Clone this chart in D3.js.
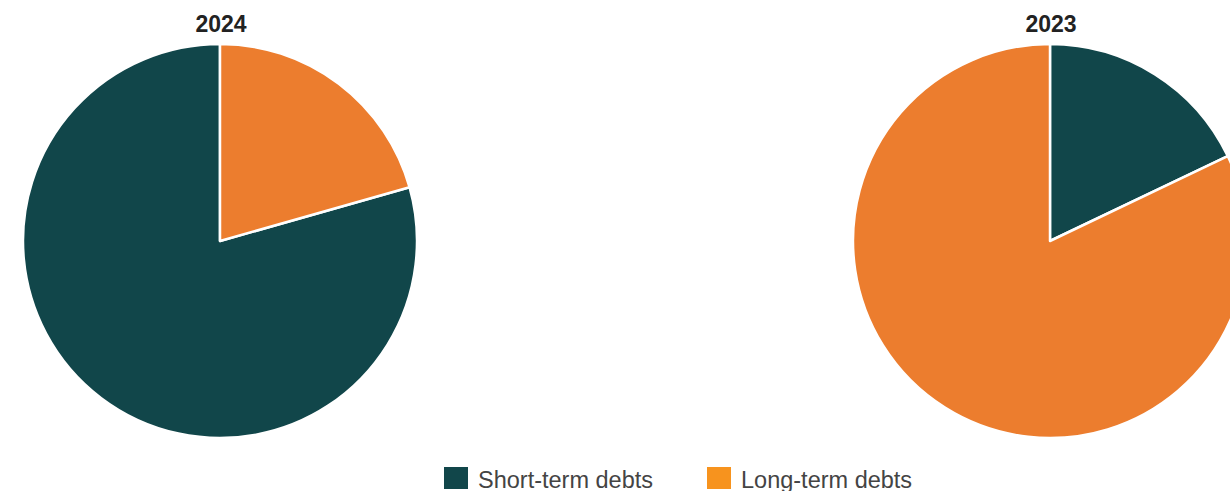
<!DOCTYPE html>
<html>
<head>
<meta charset="utf-8">
<script src="https://cdn.jsdelivr.net/npm/d3@7"></script>
<style>
  html, body { margin: 0; padding: 0; background: #fff; }
  svg { display: block; font-family: "Liberation Sans", Arial, Helvetica, sans-serif; }
</style>
</head>
<body>
<svg id="chart" width="1230" height="491"></svg>
<script>
// Debt structure by year (% of total debts)
const years = ["2024", "2023"];
const categories = ["Short-term debts", "Long-term debts"];
const shortTerm = [79.4, 17.9];
const longTerm = [20.6, 82.1];

const sliceColors = ["#11464a", "#ec7d2e"];
const legendColors = ["#11464a", "#f7931e"];

const svg = d3.select("#chart");

const radius = 197;
const centerX = d3.scalePoint().domain(years).range([220, 1050]);
const centerY = 241;

const color = d3.scaleOrdinal().domain(categories).range(sliceColors);
const legendColor = d3.scaleOrdinal().domain(categories).range(legendColors);

// smaller share starts at twelve o'clock, running clockwise
const pie = d3.pie().value(d => d.value).sort((a, b) => a.value - b.value);
const arc = d3.arc().innerRadius(0).outerRadius(radius);

years.forEach((year, i) => {
  const rows = [
    { key: categories[0], value: shortTerm[i] },
    { key: categories[1], value: longTerm[i] }
  ];
  const g = svg.append("g")
    .attr("transform", `translate(${centerX(year)},${centerY})`);

  g.selectAll("path")
    .data(pie(rows))
    .join("path")
    .attr("d", arc)
    .attr("fill", d => color(d.data.key))
    .attr("stroke", "#fff")
    .attr("stroke-width", 2.5)
    .attr("stroke-linejoin", "round");

  svg.append("text")
    .attr("x", centerX(year) + 1)
    .attr("y", 32)
    .attr("text-anchor", "middle")
    .attr("font-size", 23)
    .attr("font-weight", "bold")
    .attr("fill", "#222")
    .text(year);
});

// legend
const legendX = [444, 707];
const legend = svg.append("g");
categories.forEach((c, i) => {
  const item = legend.append("g").attr("transform", `translate(${legendX[i]},466)`);
  item.append("rect")
    .attr("y", 1)
    .attr("width", 24)
    .attr("height", 22)
    .attr("fill", legendColor(c));
  item.append("text")
    .attr("x", 34)
    .attr("y", 22)
    .attr("font-size", 23.5)
    .attr("fill", "#444")
    .text(c);
});
</script>
</body>
</html>
